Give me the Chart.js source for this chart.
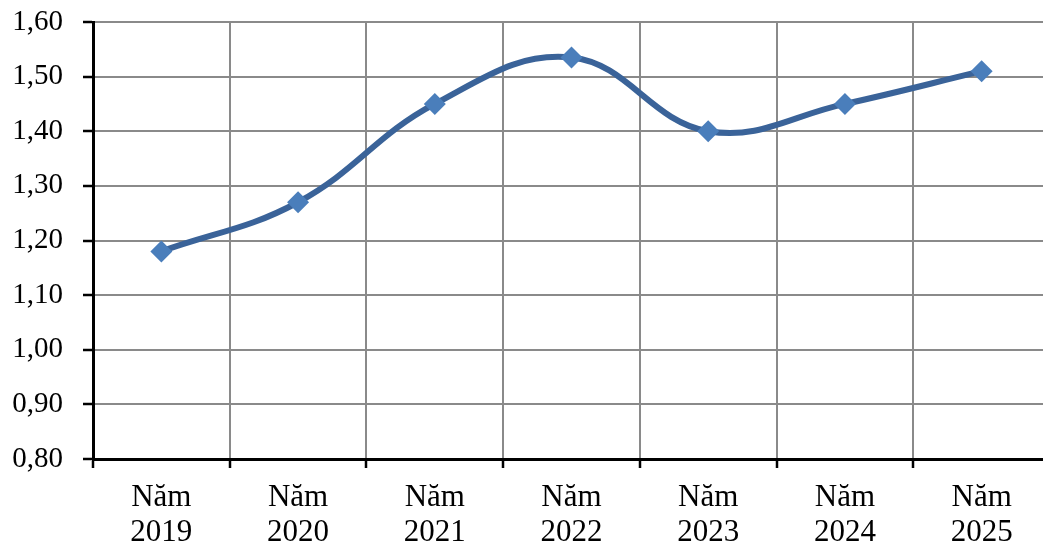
<!DOCTYPE html>
<html>
<head>
<meta charset="utf-8">
<script src="https://cdn.jsdelivr.net/npm/chart.js@4/dist/chart.umd.min.js"></script>
<style>
  html, body { margin: 0; padding: 0; background: #ffffff; overflow: hidden; }
  #chart { display: block; }
</style>
</head>
<body>
<canvas id="chart" width="1050" height="546"></canvas>
<script>
// Categories: two-line labels (word, year)
const categories = [
  ['Năm', '2019'], ['Năm', '2020'], ['Năm', '2021'], ['Năm', '2022'],
  ['Năm', '2023'], ['Năm', '2024'], ['Năm', '2025']
];
// Series values
const values = [1.18, 1.27, 1.45, 1.535, 1.40, 1.45, 1.51];
// Value axis range
const yMin = 0.8;
const yMax = 1.6;
const yStep = 0.1;

const fontFamily = '"Liberation Serif", "Times New Roman", serif';

new Chart(document.getElementById('chart'), {
  type: 'line',
  data: {
    labels: categories,
    datasets: [{
      data: values,
      borderColor: '#3A6399',
      borderWidth: 6,
      tension: 0.4,
      pointStyle: 'rectRot',
      pointRadius: 11,
      pointHoverRadius: 11,
      pointBackgroundColor: '#4A7EBB',
      pointBorderColor: '#4A7EBB',
      pointBorderWidth: 0,
      fill: false
    }]
  },
  options: {
    responsive: false,
    animation: false,
    events: [],
    layout: { autoPadding: false, padding: { top: 22, right: 0, bottom: 0, left: 0 } },
    plugins: { legend: { display: false }, tooltip: { enabled: false } },
    scales: {
      x: {
        offset: true,
        grid: {
          offset: true,
          color: '#8a8a8a',
          lineWidth: 2,
          tickColor: '#000000',
          tickWidth: 2.5,
          tickLength: 9
        },
        border: { color: '#000000', width: 3 },
        ticks: {
          color: '#000000',
          font: { family: fontFamily, size: 31, lineHeight: 1.14 },
          padding: 12,
          maxRotation: 0,
          autoSkip: false
        },
        afterFit: (scale) => {
          scale.height = 87;
          scale.paddingLeft = 0;
          scale.paddingRight = 0;
        }
      },
      y: {
        min: yMin,
        max: yMax,
        grid: {
          color: '#8a8a8a',
          lineWidth: 2,
          tickColor: '#000000',
          tickWidth: 2.5,
          tickLength: 10
        },
        border: { color: '#000000', width: 3 },
        ticks: {
          stepSize: yStep,
          color: '#000000',
          font: { family: fontFamily, size: 29 },
          padding: 20,
          callback: (v) => Number(v).toFixed(2).replace('.', ',')
        },
        afterFit: (scale) => {
          scale.width = 93;
          scale.paddingTop = 0;
          scale.paddingBottom = 0;
        }
      }
    }
  }
});
</script>
</body>
</html>
